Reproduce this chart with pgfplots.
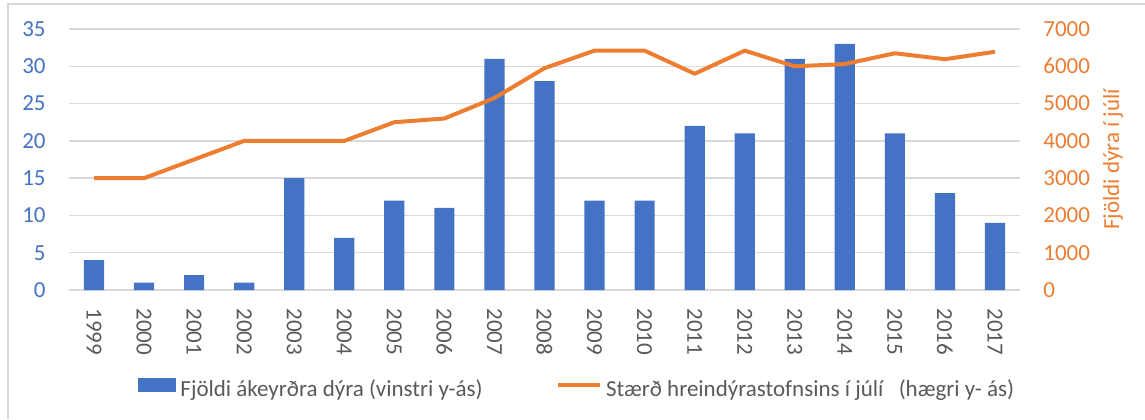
\documentclass[border=0pt]{standalone}
\usepackage{fontspec}
\setmainfont{Carlito}
\usepackage{pgfplots}
\pgfplotsset{compat=1.18}
\definecolor{barblue}{HTML}{4472C4}
\definecolor{lineorange}{HTML}{ED7D31}
\definecolor{gridgray}{HTML}{D9D9D9}
\definecolor{txtgray}{HTML}{595959}
\newcommand{\chartfont}{\fontsize{11.5}{13}\selectfont}
\begin{document}
\begin{tikzpicture}
\useasboundingbox (0,0) rectangle (572.5pt,209.5pt);
\draw[gridgray, line width=0.8pt] (4pt,0) -- (4pt,207.5pt) -- (572.5pt,207.5pt);
\begin{axis}[
  at={(34.5pt,64.5pt)}, anchor=south west,
  scale only axis, width=475.5pt, height=130.5pt,
  xmin=-0.5, xmax=18.5, ymin=0, ymax=35,
  xtick={0,...,18},
  xticklabels={1999,2000,2001,2002,2003,2004,2005,2006,2007,2008,2009,2010,2011,2012,2013,2014,2015,2016,2017},
  ytick={0,5,...,35},
  axis x line*=bottom, axis y line*=left,
  axis line style={draw=none},
  major tick length=0pt,
  ymajorgrids, grid style={gridgray, line width=0.7pt},
  /pgf/number format/assume math mode=true,
  /pgf/number format/1000 sep={},
  scaled ticks=false,
  tick label style={font=\chartfont},
  xticklabel style={rotate=-90, anchor=west, inner sep=0pt, text=txtgray},
  xticklabel shift=9pt,
  yticklabel style={anchor=east, inner sep=0pt, text=barblue},
  yticklabel shift=11.5pt,
  legend columns=2,
  legend cell align=left,
  legend style={at={(0.0726,-0.383)}, anchor=west, draw=none, fill=none,
    font=\chartfont, text=txtgray, inner sep=0pt,
    nodes={inner sep=1pt},
    /tikz/every odd column/.append style={column sep=1pt},
    /tikz/every even column/.append style={column sep=35.75pt}},
]
\addplot[ybar, bar width=10.1pt, fill=barblue, draw=none,
  legend image code/.code={\fill[barblue] (0pt,-0.85pt) rectangle (19pt,5.85pt);}]
  coordinates {(0,4) (1,1) (2,2) (3,1) (4,15) (5,7) (6,12) (7,11) (8,31) (9,28)
  (10,12) (11,12) (12,22) (13,21) (14,31) (15,33) (16,21) (17,13) (18,9)};
\addlegendentry{Fjöldi ákeyrðra dýra (vinstri y-ás)}
\addlegendimage{legend image code/.code={\draw[lineorange, line width=2pt] (0pt,2.5pt) -- (21pt,2.5pt);}}
\addlegendentry{Stærð hreindýrastofnsins í júlí\ \ \hspace{2.5pt}(hægri y- ás)}
\end{axis}
\begin{axis}[
  at={(34.5pt,64.5pt)}, anchor=south west,
  scale only axis, width=475.5pt, height=130.5pt,
  xmin=-0.5, xmax=18.5, ymin=0, ymax=7000,
  ytick={0,1000,...,7000},
  axis x line=none, axis y line*=right,
  axis line style={draw=none},
  major tick length=0pt,
  /pgf/number format/assume math mode=true,
  /pgf/number format/1000 sep={},
  scaled ticks=false,
  tick label style={font=\chartfont},
  yticklabel style={anchor=west, inner sep=0pt, text=lineorange},
  yticklabel shift=11.5pt,
  ylabel={Fjöldi dýra í júlí},
  every axis y label/.style={at={([xshift=46.5pt]rel axis cs:1,0.5)}, rotate=90, anchor=center, font=\chartfont, text=lineorange},
]
\addplot[lineorange, line width=2pt, line join=round, mark=none, sharp plot]
  coordinates {(0,3000) (1,3000) (2,3500) (3,4000) (4,4000) (5,4000) (6,4500) (7,4600)
  (8,5150) (9,5950) (10,6420) (11,6420) (12,5800) (13,6420) (14,6000) (15,6060)
  (16,6350) (17,6190) (18,6390)};
\end{axis}
\end{tikzpicture}
\end{document}
